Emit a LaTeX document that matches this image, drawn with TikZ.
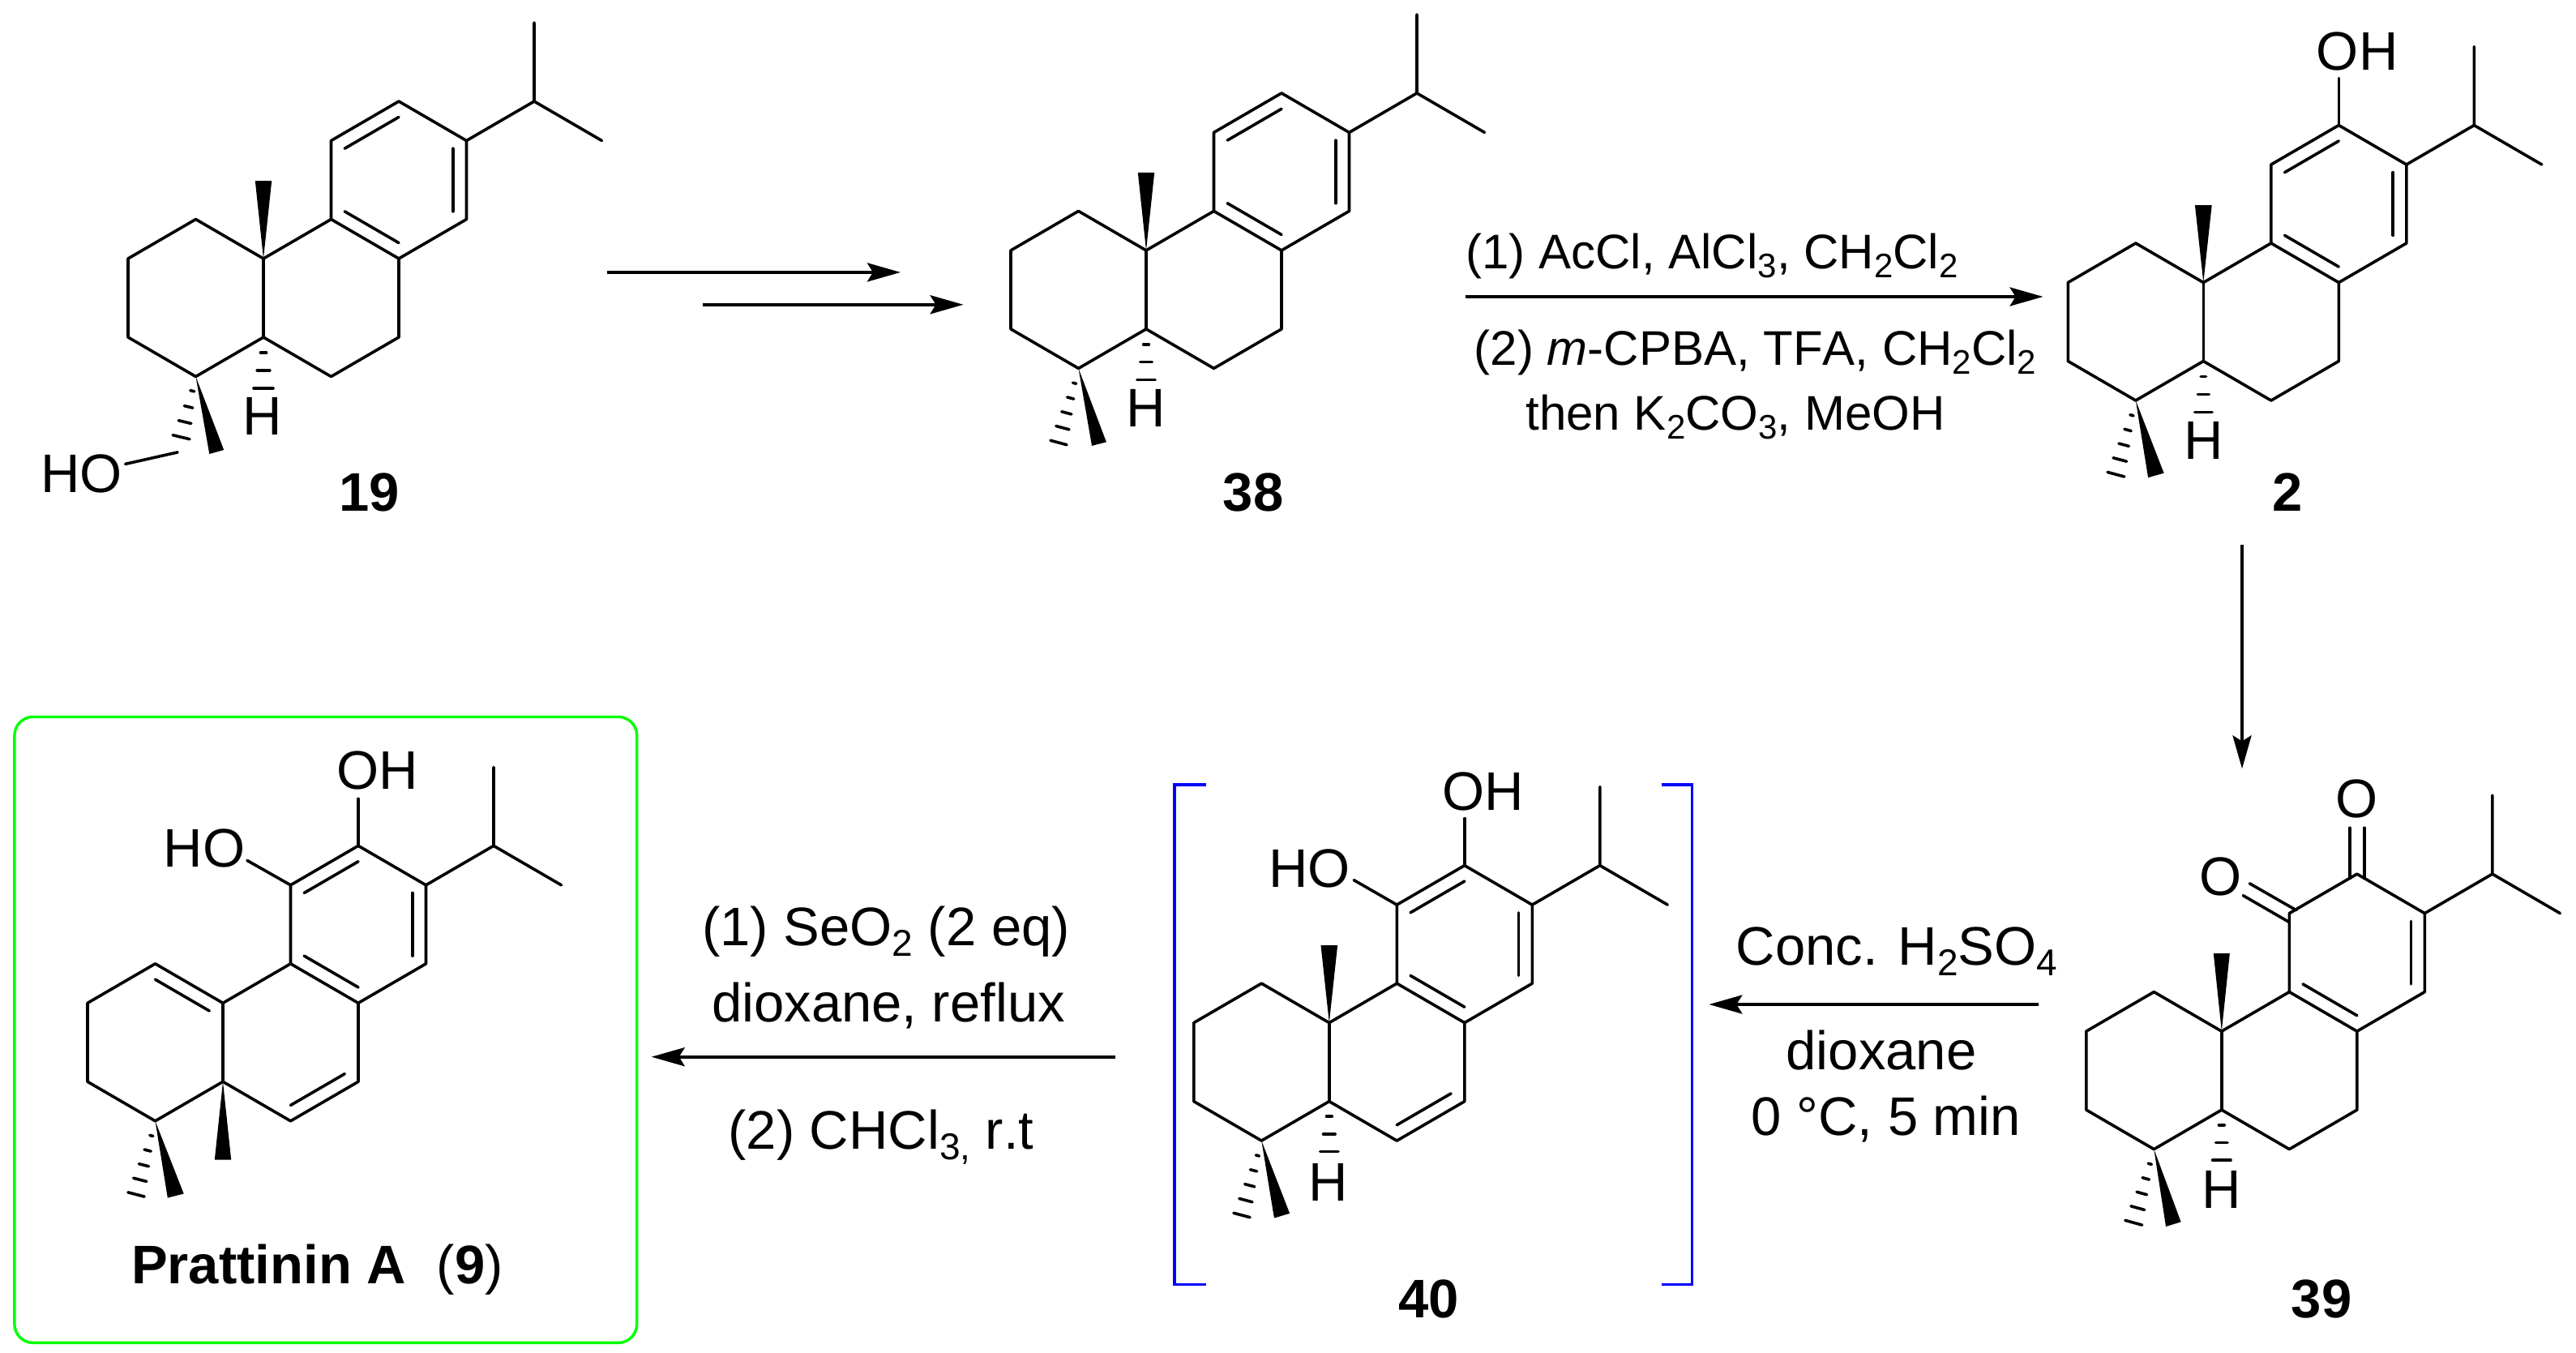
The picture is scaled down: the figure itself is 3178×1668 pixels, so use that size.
\documentclass[tikz,border=0pt]{standalone}
\usepackage{fontspec}
\setmainfont{Liberation Sans}[Kerning=Off]
\usetikzlibrary{calc,arrows.meta}
\definecolor{boxgreen}{RGB}{0,255,0}
\definecolor{brblue}{RGB}{0,0,255}
\tikzset{
  bond/.style={line width=3.6pt,line cap=round,line join=round},
  rxn/.style={line width=4pt,-{Stealth[length=41pt,width=23pt,inset=7pt]}},
  atom/.style={inner sep=0pt,font=\fontsize{67}{67}\selectfont},
  cmpd/.style={inner sep=0pt,font=\fontsize{67}{67}\selectfont\bfseries},
  regA/.style={inner sep=0pt,anchor=base,font=\fontsize{60}{60}\selectfont},
  regB/.style={inner sep=0pt,anchor=base,font=\fontsize{67}{67}\selectfont},
  brk/.style={line width=3.6pt,draw=brblue,line join=miter},
  greenbox/.style={line width=3.4pt,draw=boxgreen,rounded corners=23pt}
}
\newcommand\SbA[1]{\raisebox{-11pt}{\fontsize{42}{42}\selectfont #1}}
\newcommand\SbB[1]{\raisebox{-13pt}{\fontsize{46}{46}\selectfont #1}}
% skeleton: prefix, x and y of the ring-junction carbon
\newcommand\Skel[3]{
  \coordinate (#1c10) at (#2,#3);
  \coordinate (#1c1) at (#2-83.5,#3-48.5);
  \coordinate (#1c2) at (#2-167,#3);
  \coordinate (#1c3) at (#2-167,#3+97);
  \coordinate (#1c4) at (#2-83.5,#3+145.5);
  \coordinate (#1c5) at (#2,#3+97);
  \coordinate (#1c6) at (#2+83.5,#3+145.5);
  \coordinate (#1c7) at (#2+167,#3+97);
  \coordinate (#1c8) at (#2+167,#3);
  \coordinate (#1c9) at (#2+83.5,#3-48.5);
  \coordinate (#1c11) at (#2+83.5,#3-145.5);
  \coordinate (#1c12) at (#2+167,#3-194);
  \coordinate (#1c13) at (#2+250.5,#3-145.5);
  \coordinate (#1c14) at (#2+250.5,#3-48.5);
  \coordinate (#1ip) at (#2+334,#3-194);
  \coordinate (#1ipa) at (#2+334,#3-291);
  \coordinate (#1ipb) at (#2+417.5,#3-145.5);
  \coordinate (#1cenA) at (#2-83.5,#3+48.5);
  \coordinate (#1cenB) at (#2+83.5,#3+48.5);
  \coordinate (#1cenC) at (#2+167,#3-97);
  \draw[bond] (#1c2)--(#1c1)--(#1c10)--(#1c9)--(#1c11)--(#1c12)--(#1c13)--(#1c14)--(#1c8)--(#1c7)--(#1c6)--(#1c5)--(#1c4)--(#1c3)--cycle;
  \draw[bond] (#1c10)--(#1c5);
  \draw[bond] (#1c9)--(#1c8);
  \draw[bond] (#1ipa)--(#1ip)--(#1ipb);
  \draw[bond] (#1c13)--(#1ip);
}
\newcommand\Dbl[3]{\draw[bond] ($(#1)!.2!(#3)$) -- ($(#2)!.2!(#3)$);}
\newcommand\Wdg[3]{\fill (#1) -- ($(#1)+(#2)$) -- ($(#1)+(#3)$) -- cycle;}
\newcommand\Hsh[4]{
  \coordinate (hE) at ($(#1)+(#2)$);
  \foreach \tv in {#4}{
    \pgfmathsetmacro\dv{#3*\tv}
    \coordinate (hP) at ($(#1)!\tv!(hE)$);
    \draw[bond] ($(hP)!\dv pt!90:(hE)$) -- ($(hP)!\dv pt!-90:(hE)$);
  }
}
\begin{document}
\begin{tikzpicture}[x=1pt,y=-1pt]
\useasboundingbox (0,0) rectangle (3178,1668);

% ---------- 19
\Skel{a}{325}{319}
\Dbl{ac9}{ac8}{acenC}\Dbl{ac11}{ac12}{acenC}\Dbl{ac13}{ac14}{acenC}
\Wdg{ac10}{-10.2,-96}{10.2,-96}
\Wdg{ac4}{16.8,95.5}{34.7,90.5}
\Hsh{ac4}{-22.4,93.4}{13.4}{.19,.4,.6,.8}
\coordinate (aCH) at ($(ac4)+(-22.4,93.4)$);
\coordinate (aOb) at (154.6,572.4);
\draw[bond] (aCH)--(aOb);
\Hsh{ac5}{0,78.4}{15}{.24,.52,.8}
\node[atom] (aH) at (324,513.9) {H};
\node[atom] (aHO) at (100.3,584) {HO};
\node[cmpd] (l19) at (456,607.3) {19};

% ---------- 38
\Skel{b}{1414}{308.9}
\Dbl{bc9}{bc8}{bcenC}\Dbl{bc11}{bc12}{bcenC}\Dbl{bc13}{bc14}{bcenC}
\Wdg{bc10}{-10.2,-96}{10.2,-96}
\Wdg{bc4}{16.5,95.5}{34.4,90.9}
\Hsh{bc4}{-25.8,96.4}{11}{.19,.38,.57,.76,.95}
\Hsh{bc5}{0,78.4}{14}{.24,.52,.8}
\node[atom] (bH) at (1413.5,503.4) {H};
\node[cmpd] (l38) at (1546,607.3) {38};

% ---------- 2
\Skel{c}{2718.3}{348.5}
\Dbl{cc9}{cc8}{ccenC}\Dbl{cc11}{cc12}{ccenC}\Dbl{cc13}{cc14}{ccenC}
\Wdg{cc10}{-10.4,-95.5}{10.4,-95.5}
\Wdg{cc4}{15.3,95.1}{34.8,89.6}
\Hsh{cc4}{-25.7,96}{11.3}{.19,.38,.57,.76,.95}
\Hsh{cc5}{0,78.9}{13.4}{.24,.52,.8}
\node[atom] (cH) at (2718.3,543.8) {H};
\node[atom] (cOH) at (2908.2,63.1) {OH};
\coordinate (cOb) at ($(cc12)+(0,-58)$);
\draw[bond] (cc12)--(cOb);
\node[cmpd] (l2) at (2822.4,607.3) {2};

% ---------- 39
\Skel{d}{2740.8}{1272.1}
\Dbl{dc9}{dc8}{dcenC}\Dbl{dc13}{dc14}{dcenC}
\Wdg{dc10}{-10,-95.9}{10,-95.9}
\Wdg{dc4}{14.7,95.4}{33.3,89.7}
\Hsh{dc4}{-26.4,95.4}{11.4}{.19,.38,.57,.76,.95}
\Hsh{dc5}{0,77.5}{14}{.24,.52,.8}
\node[atom] (dH) at (2740.4,1467.7) {H};
\node[atom] (dO1) at (2907.7,985.8) {O};
\node[atom] (dO2) at (2740,1081.3) {O};
\draw[bond] ($(dc12)+(-9.1,5.3)$)--($(dc12)+(-9.1,-56.9)$);
\draw[bond] ($(dc12)+(9.1,5.3)$)--($(dc12)+(9.1,-56.9)$);
\draw[bond] ($(dc11)+(8.6,-3.8)$)--($(dc11)+(-49,-36.8)$);
\draw[bond] ($(dc11)+(0,11)$)--($(dc11)+(-57.1,-22)$);
\node[cmpd] (l39) at (2864,1602.3) {39};

% ---------- 40
\Skel{e}{1639.8}{1261.6}
\Dbl{ec9}{ec8}{ecenC}\Dbl{ec11}{ec12}{ecenC}\Dbl{ec13}{ec14}{ecenC}\Dbl{ec6}{ec7}{ecenB}
\Wdg{ec10}{-10.3,-95.4}{10.3,-95.4}
\Wdg{ec4}{15.6,95.4}{34.8,89.7}
\Hsh{ec4}{-25.6,96.7}{11}{.19,.38,.57,.76,.95}
\Hsh{ec5}{0,77.5}{14}{.24,.52,.8}
\node[atom] (eH) at (1638.9,1458.2) {H};
\node[atom] (eOH) at (1829.5,976.8) {OH};
\node[atom] (eHO) at (1615.7,1071.7) {HO};
\coordinate (eOb) at ($(ec12)+(0,-58)$);
\draw[bond] (ec12)--(eOb);
\coordinate (eHb) at ($(ec11)+(-53.1,-30.5)$);
\draw[bond] (ec11)--(eHb);
\node[cmpd] (l40) at (1762.6,1602.3) {40};
\draw[brk] (1488,967.7) -- (1449.2,967.7) -- (1449.2,1584.6) -- (1488,1584.6);
\draw[brk] (2049.6,967.7) -- (2087.6,967.7) -- (2087.6,1584.6) -- (2049.6,1584.6);

% ---------- 9
\Skel{f}{275}{1237.3}
\Dbl{fc9}{fc8}{fcenC}\Dbl{fc11}{fc12}{fcenC}\Dbl{fc13}{fc14}{fcenC}
\Dbl{fc6}{fc7}{fcenB}\Dbl{fc1}{fc10}{fcenA}
\Wdg{fc5}{-10.2,96.4}{10.2,96.4}
\Wdg{fc4}{15.3,94.8}{35.2,89.7}
\Hsh{fc4}{-24.7,95.4}{11}{.19,.38,.57,.76,.95}
\node[atom] (fOH) at (465.3,950.7) {OH};
\node[atom] (fHO) at (252,1046.6) {HO};
\coordinate (fOb) at ($(fc12)+(0,-58)$);
\draw[bond] (fc12)--(fOb);
\coordinate (fHb) at ($(fc11)+(-53.6,-30.4)$);
\draw[bond] (fc11)--(fHb);
\node[inner sep=0pt,anchor=base west,font=\fontsize{67}{67}\selectfont] (l9) at (162,1583) {\textbf{Prattinin A}\hspace{38pt}(\textbf{9})};
\draw[greenbox] (17.9,884.2) rectangle (785.7,1656.4);

% ---------- arrows
\coordinate (r1s) at (749,335.9);   \coordinate (r1e) at (1111,335.9);
\coordinate (r2s) at (867.2,375.8); \coordinate (r2e) at (1188.6,375.8);
\coordinate (r3s) at (1808,366);    \coordinate (r3e) at (2520.6,366);
\coordinate (r4s) at (2766,672);    \coordinate (r4e) at (2766,948.3);
\coordinate (r5s) at (2515,1239);   \coordinate (r5e) at (2108.3,1239);
\coordinate (r6s) at (1376,1303.7); \coordinate (r6e) at (803.7,1303.7);
\draw[rxn] (r1s)--(r1e);
\draw[rxn] (r2s)--(r2e);
\draw[rxn] (r3s)--(r3e);
\draw[rxn] (r4s)--(r4e);
\draw[rxn] (r5s)--(r5e);
\draw[rxn] (r6s)--(r6e);

% ---------- reagents
\node[regA] (t1) at (2112,331) {(1) AcCl, AlCl\SbA{3}, CH\SbA{2}Cl\SbA{2}};
\node[regA] (t2) at (2165.6,450.7) {(2) \textit{m}-CPBA, TFA, CH\SbA{2}Cl\SbA{2}};
\node[regA] (t3) at (2141,530.7) {then K\SbA{2}CO\SbA{3}, MeOH};
\node[regB] (t4) at (2340,1190.7) {Conc. H\SbB{2}SO\SbB{4}};
\node[regB] (t5) at (2321,1319) {dioxane};
\node[regB] (t6) at (2326.8,1400) {0 °C, 5 min};
\node[regB] (t7) at (1093,1166) {(1) SeO\SbB{2} (2 eq)};
\node[regB] (t8) at (1096,1260) {dioxane, reflux};
\node[regB] (t9) at (1087,1417) {(2) CHCl\SbB{3,} r.t};
\end{tikzpicture}
\end{document}
